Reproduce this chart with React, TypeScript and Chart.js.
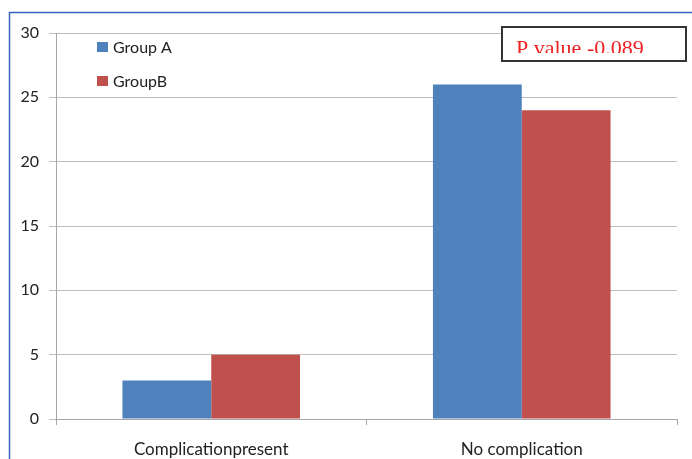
import React, { useEffect, useRef } from "react";
import { Chart, registerables } from "chart.js";

Chart.register(...registerables);

const categories = ["Complicationpresent", "No complication"];
const groupA = [3, 26];
const groupB = [5, 24];
const seriesNames = ["Group A", "GroupB"];
const seriesColors = ["#4f81bd", "#c0504d"];
const annotationText = "P value -0.089";
const yMin = 0;
const yMax = 30;
const yStep = 5;

const FONT = "Lato, 'Open Sans', sans-serif";

const decorPlugin = {
  id: "decor",
  beforeDraw(chart: any) {
    const ctx = chart.ctx;
    ctx.save();
    ctx.fillStyle = "#ffffff";
    ctx.fillRect(0, 0, chart.width, chart.height);
    ctx.strokeStyle = "#3563bd";
    ctx.lineWidth = 1.5;
    ctx.beginPath();
    ctx.moveTo(9.5, chart.height);
    ctx.lineTo(9.5, 12.5);
    ctx.lineTo(chart.width, 12.5);
    ctx.stroke();
    ctx.restore();
  },
  afterDraw(chart: any) {
    const ctx = chart.ctx;
    const area = chart.chartArea;
    ctx.save();
    const lx = area.left + 41;
    chart.data.datasets.forEach((ds: any, i: number) => {
      const cy = area.top + 14 + i * 34;
      ctx.fillStyle = ds.backgroundColor;
      ctx.fillRect(lx, cy - 5, 11, 10);
      ctx.fillStyle = "#222222";
      ctx.font = "16px " + FONT;
      ctx.textBaseline = "middle";
      ctx.textAlign = "left";
      ctx.fillText(ds.label, lx + 16, cy + 1);
    });
    const bx = 502, by = 27, bw = 184, bh = 34;
    ctx.fillStyle = "#ffffff";
    ctx.fillRect(bx, by, bw, bh);
    ctx.strokeStyle = "#333333";
    ctx.lineWidth = 2;
    ctx.strokeRect(bx, by, bw, bh);
    ctx.beginPath();
    ctx.rect(bx + 2, by + 2, bw - 4, 24);
    ctx.clip();
    ctx.fillStyle = "#ee2222";
    ctx.font = "22px 'Liberation Serif', 'Times New Roman', serif";
    ctx.textBaseline = "alphabetic";
    ctx.textAlign = "left";
    ctx.fillText(annotationText, 516, 55);
    ctx.restore();
  },
};

export default function App() {
  const ref = useRef<HTMLCanvasElement | null>(null);
  useEffect(() => {
    if (!ref.current) return;
    const chart = new Chart(ref.current, {
      type: "bar",
      data: {
        labels: categories,
        datasets: [
          { label: seriesNames[0], data: groupA, backgroundColor: seriesColors[0] },
          { label: seriesNames[1], data: groupB, backgroundColor: seriesColors[1] },
        ],
      },
      options: {
        animation: false,
        responsive: false,
        maintainAspectRatio: false,
        layout: { padding: { left: 0, right: 15, top: 33, bottom: 0 } },
        plugins: { legend: { display: false }, tooltip: { enabled: false } },
        datasets: { bar: { categoryPercentage: 0.572, barPercentage: 1 } },
        scales: {
          x: {
            offset: true,
            afterFit: (s: any) => { s.height = 40; },
            grid: { offset: true, drawOnChartArea: false, tickLength: 6, color: "#a6a6a6" },
            border: { color: "#a6a6a6" },
            ticks: { color: "#222222", font: { family: FONT, size: 17 }, padding: 14 },
          },
          y: {
            min: yMin,
            max: yMax,
            afterFit: (s: any) => { s.width = 56; },
            grid: { color: "#bdbdbd", tickLength: 7 },
            border: { color: "#a6a6a6" },
            ticks: { stepSize: yStep, color: "#222222", font: { family: FONT, size: 16 }, padding: 10 },
          },
        },
      },
      plugins: [decorPlugin],
    });
    return () => chart.destroy();
  }, []);
  return (
    <div style={{ position: "fixed", left: 0, top: 0, width: 692, height: 459 }}>
      <canvas ref={ref} width={692} height={459} style={{ width: 692, height: 459 }} />
    </div>
  );
}
